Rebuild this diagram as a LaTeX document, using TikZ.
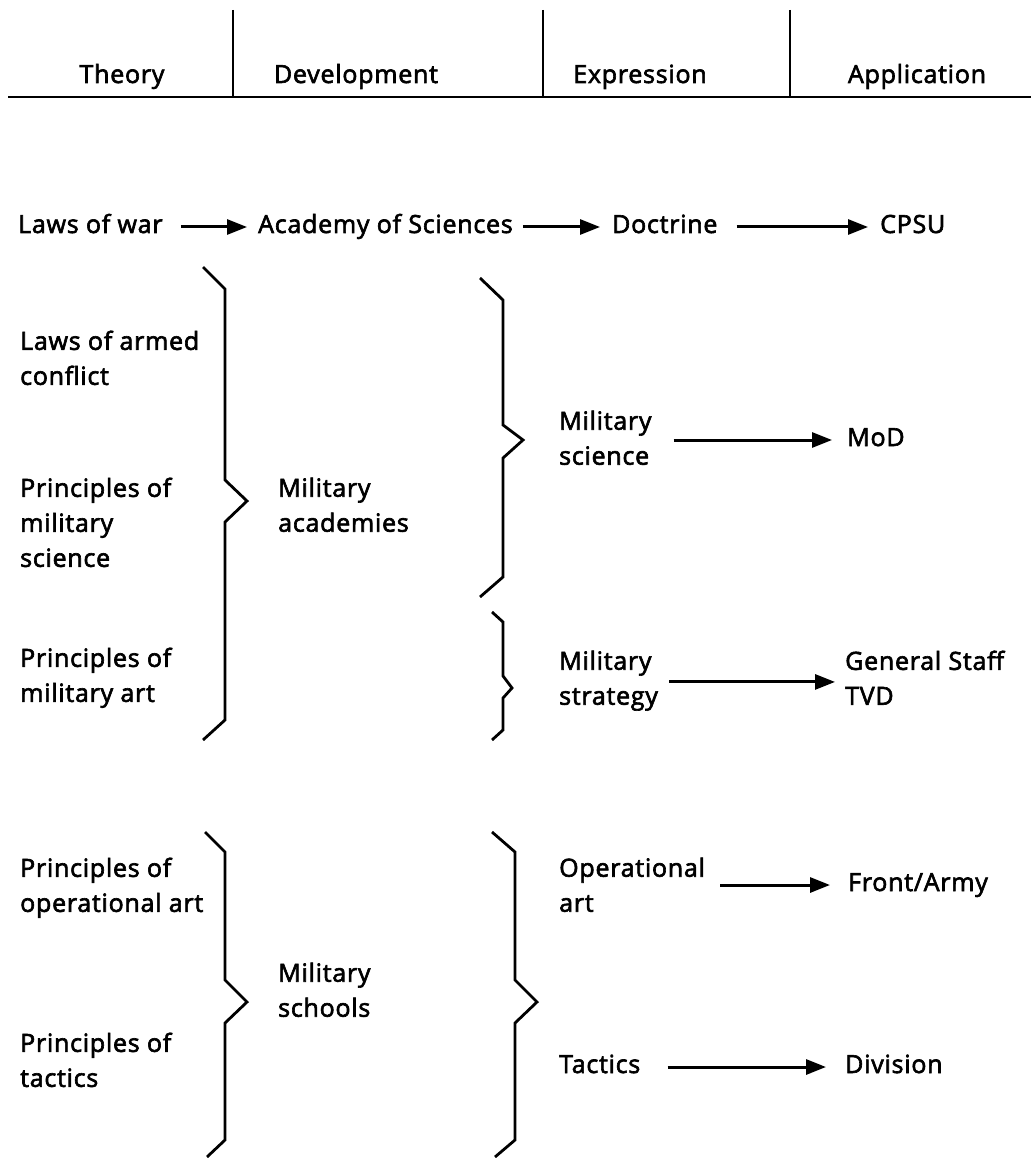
\documentclass[tikz,border=0pt]{standalone}
\usepackage{fontspec}
\setmainfont{Open Sans}[FakeBold=2.5, LetterSpace=3]
\usetikzlibrary{arrows.meta}
\begin{document}
\begin{tikzpicture}[x=1pt,y=-1pt,
  txt/.style={inner sep=0pt, font=\fontsize{25}{35}\selectfont, text height=18pt, text depth=6pt, anchor=base west},
  hdr/.style={inner sep=0pt, font=\fontsize{25}{35}\selectfont, anchor=base},
  blk/.style={inner sep=0pt, font=\fontsize{25}{35}\selectfont, align=left, anchor=north west, yshift=24.5pt, execute at begin node=\strut},
  rule/.style={line width=2.4pt},
  brace/.style={line width=2.8pt, line join=miter},
  arr/.style={line width=3pt, -{Triangle[length=20pt,width=15pt]}}]
\path[use as bounding box] (0,0) rectangle (1031,1158);
% header
\draw[rule] (8,97) -- (1031,97);
\draw[rule] (233,10) -- (233,97);
\draw[rule] (543,10) -- (543,97);
\draw[rule] (790,10) -- (790,97);
\node[hdr] (h1) at (122,83) {Theory};
\node[hdr] (h2) at (356,83) {Development};
\node[hdr] (h3) at (640,83) {Expression};
\node[hdr] (h4) at (917,83) {Application};
% first row
\node[txt] (lw) at (18,233) {Laws of war};
\node[txt] (as) at (258,233) {Academy of Sciences};
\node[txt] (doc) at (612,233) {Doctrine};
\node[txt] (cpsu) at (880,233) {CPSU};
\draw[arr, shorten <=18pt, shorten >=11pt] (lw.east) -- (as.west);
\draw[arr, shorten <=10pt, shorten >=12pt] (as.east) -- (doc.west);
\draw[arr, shorten <=19pt, shorten >=12pt] (doc.east) -- (cpsu.west);
% theory column
\node[blk] (lac) at (20,355) {Laws of armed\\conflict};
\node[blk] (pms) at (20,502) {Principles of\\military\\science};
\node[blk] (pma) at (20,672) {Principles of\\military art};
\node[blk] (poa) at (20,882) {Principles of\\operational art};
\node[blk] (pt) at (20,1057) {Principles of\\tactics};
% development column
\node[blk] (ma) at (278,502) {Military\\academies};
\node[blk] (msch) at (278,987) {Military\\schools};
% expression column
\node[blk] (msc) at (559,435) {Military\\science};
\node[blk] (mst) at (559,675) {Military\\strategy};
\node[blk] (opa) at (559,882) {Operational\\art};
\node[txt] (tac) at (559,1073) {Tactics};
% application column
\node[txt] (mod) at (847,446) {MoD};
\node[blk] (gs) at (845,675) {General Staff\\TVD};
\node[txt] (fa) at (848,891) {Front/Army};
\node[txt] (div) at (845,1073) {Division};
% braces
\draw[brace] (203,267) -- (225,289) -- (225,480) -- (247,501) -- (225,522) -- (225,720) -- (203,740);
\draw[brace] (480,278) -- (503,300) -- (503,425) -- (523,440) -- (503,458) -- (503,577) -- (480,597);
\draw[brace] (492,612) -- (503,622) -- (503,676) -- (512,688) -- (503,698) -- (503,730) -- (492,740);
\draw[brace] (205,832) -- (225,852) -- (225,980) -- (247,1002) -- (225,1023) -- (225,1140) -- (207,1157);
\draw[brace] (492,832) -- (515,852) -- (515,980) -- (537,1002) -- (515,1023) -- (515,1140) -- (495,1157);
% arrows
\draw[arr, shorten <=22pt, shorten >=15pt] (msc.east |- mod.west) -- (mod.west);
\draw[arr, shorten <=11pt, shorten >=10pt] ([yshift=1pt]mst.east) -- ([yshift=1pt]mst.east -| gs.west);
\draw[arr, shorten <=15pt, shorten >=18pt] (opa.east |- fa.west) -- (fa.west);
\draw[arr, shorten <=27pt, shorten >=19pt] (tac.east) -- (div.west);
\end{tikzpicture}
\end{document}
